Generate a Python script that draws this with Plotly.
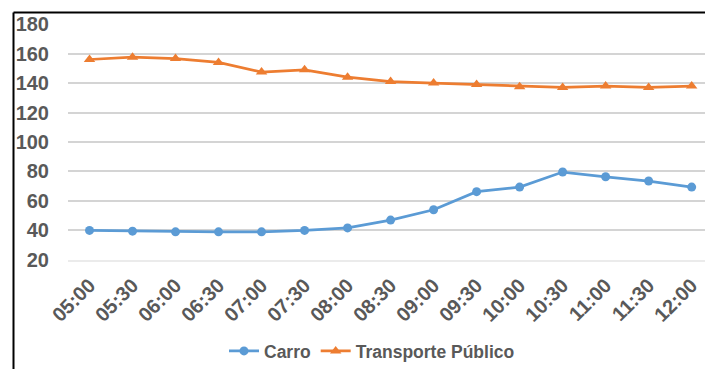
import plotly.graph_objects as go

# Horários (eixo x)
horarios = ["05:00", "05:30", "06:00", "06:30", "07:00", "07:30", "08:00",
            "08:30", "09:00", "09:30", "10:00", "10:30", "11:00", "11:30", "12:00"]

# Séries
carro = [40, 39.5, 39, 39, 39, 40, 41.7, 47, 54, 66.3, 69.4, 79.6, 76.4, 73.5, 69.4]
transporte_publico = [156, 157.6, 156.6, 154, 147.5, 149, 144, 141, 140, 139,
                      137.5, 137, 138, 137, 138]

y_ticks = [20, 40, 60, 80, 100, 120, 140, 160, 180]

AZUL = "#5B9BD5"
LARANJA = "#ED7D31"
CINZA_TXT = "#595959"

W, H = 705, 369
L, R, T, B = 68, 0, 24, 108

fig = go.Figure()
fig.add_trace(go.Scatter(
    x=list(range(len(horarios))), y=carro, name="Carro",
    mode="lines+markers",
    line=dict(color=AZUL, width=2.75),
    marker=dict(symbol="circle", size=9, color=AZUL),
))
fig.add_trace(go.Scatter(
    x=list(range(len(horarios))), y=transporte_publico, name="Transporte Público",
    mode="lines+markers",
    line=dict(color=LARANJA, width=2.75),
    marker=dict(symbol="triangle-up", size=10, color=LARANJA),
))

plot_w = W - L - R
plot_h = H - T - B

def px_x(p):
    return (p - L) / plot_w

def px_y(p):
    return (H - B - p) / plot_h

# Moldura preta à esquerda e no topo
fig.add_shape(type="line", xref="paper", yref="paper",
              x0=px_x(13.5), x1=px_x(720), y0=px_y(12.5), y1=px_y(12.5),
              line=dict(color="black", width=2))
fig.add_shape(type="line", xref="paper", yref="paper",
              x0=px_x(13.5), x1=px_x(13.5), y0=px_y(12.5), y1=px_y(380),
              line=dict(color="black", width=2))

fig.update_layout(
    width=W, height=H,
    margin=dict(l=L, r=R, t=T, b=B),
    paper_bgcolor="white", plot_bgcolor="white",
    font=dict(family="Liberation Sans, Arial, sans-serif", color=CINZA_TXT),
    showlegend=True,
    legend=dict(
        orientation="h", x=px_x(372), xanchor="center",
        y=px_y(352), yanchor="middle",
        font=dict(size=17.5, color=CINZA_TXT, family="Liberation Sans, Arial, sans-serif", weight="bold"),
        itemwidth=30, tracegroupgap=0,
    ),
    xaxis=dict(
        tickmode="array",
        tickvals=list(range(len(horarios))),
        ticktext=horarios,
        range=[-0.5, 14.31],
        tickangle=-45,
        tickfont=dict(size=20, color=CINZA_TXT, weight="bold"),
        showgrid=False, zeroline=False,
        showline=True, linecolor="#ebebeb", linewidth=1.5,
        ticks="", ticklabelstandoff=4,
        fixedrange=True,
    ),
    yaxis=dict(
        range=[19.9, 180.1],
        tickvals=y_ticks,
        tickfont=dict(size=20, color=CINZA_TXT, weight="bold"),
        showgrid=True, gridcolor="#d4d4d4", gridwidth=1.5,
        zeroline=False, showline=False,
        ticks="", ticklabelstandoff=18,
        fixedrange=True,
    ),
)

fig.write_html("out.html")
